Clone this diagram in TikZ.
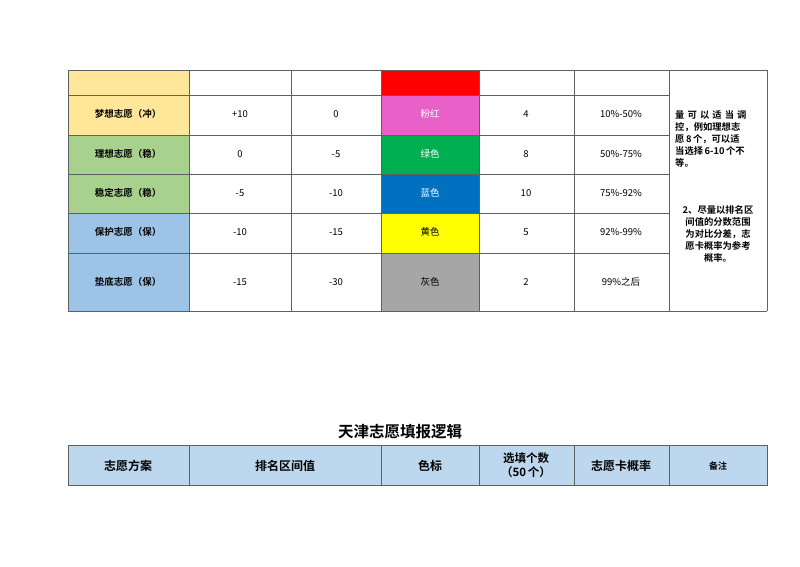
\documentclass[tikz,border=0pt]{standalone}
\usepackage{fontspec}
\setmainfont{Noto Sans CJK SC}
\newfontfamily\cjkb{Noto Sans CJK SC Bold}
\definecolor{cbeige}{HTML}{FFE699}
\definecolor{cgreen}{HTML}{A9D18E}
\definecolor{cblue}{HTML}{9DC3E6}
\definecolor{chead}{HTML}{BDD7EE}
\definecolor{kred}{HTML}{FF0000}
\definecolor{kpink}{HTML}{E960C8}
\definecolor{kgreen}{HTML}{00B050}
\definecolor{kblue}{HTML}{0070C0}
\definecolor{kyellow}{HTML}{FFFF00}
\definecolor{kgray}{HTML}{A6A6A6}
\definecolor{grid}{HTML}{606060}
\tikzset{cell/.style={draw=grid,line width=0.6pt},
 txt/.style={font=\fontsize{9.5}{11}\selectfont,text=black,text height=7pt,text depth=2pt},
 hd/.style={font=\fontsize{12}{14}\selectfont\cjkb,text=black,align=center}}
\begin{document}
\begin{tikzpicture}[x=1pt,y=-1pt]
\useasboundingbox (0,0) rectangle (800,566);
\fill[cbeige] (68,70) rectangle (189,135);
\fill[cgreen] (68,135) rectangle (189,213);
\fill[cblue] (68,213) rectangle (189,311);
\fill[kred] (381,70) rectangle (479,95);
\fill[kpink] (381,95) rectangle (479,135);
\fill[kgreen] (381,135) rectangle (479,174);
\fill[kblue] (381,174) rectangle (479,213);
\fill[kyellow] (381,213) rectangle (479,253);
\fill[kgray] (381,253) rectangle (479,311);
\foreach \y in {70,95,135,174,213,253,311} \draw[cell] (68,\y) -- (669,\y);
\draw[cell] (669,70) -- (767,70) (669,311) -- (767,311);
\foreach \x in {68,189,291,381,479,574,669,767} \draw[cell] (\x,70) -- (\x,311);
\foreach \y/\a/\b/\c/\d/\e/\f/\col [count=\i] in {
 115/梦想志愿（冲）/+10/0/粉红/4/10\%-50\%/white,
 155/理想志愿（稳）/0/-5/绿色/8/50\%-75\%/white,
 194/稳定志愿（稳）/-5/-10/蓝色/10/75\%-92\%/white,
 233/保护志愿（保）/-10/-15/黄色/5/92\%-99\%/black,
 283/垫底志愿（保）/-15/-30/灰色/2/99\%之后/black}{
 \node[txt,font=\fontsize{9.5}{11}\selectfont\cjkb] (r\i a) at (128,\y) {\a};
 \node[txt] (r\i b) at (240,\y) {\b};
 \node[txt] (r\i c) at (336,\y) {\c};
 \node[txt,text=\col] (r\i d) at (430,\y) {\d};
 \node[txt] (r\i e) at (526,\y) {\e};
 \node[txt] (r\i f) at (621,\y) {\f};
}
\node[font=\fontsize{9.3}{12}\selectfont\cjkb,align=left,anchor=north west,inner sep=0pt] (n1) at (675,110)
 {量\,\,可\,\,以\,\,适\,\,当\,\,调\\控，例如理想志\\愿\,8\,个，可以适\\当选择\,6-10\,个不\\等。};
\node[font=\fontsize{9.3}{12}\selectfont\cjkb,align=center,anchor=north,inner sep=0pt] (n2) at (718,205)
 {2、尽量以排名区\\间值的分数范围\\为对比分差，志\\愿卡概率为参考\\概率。};
\node[font=\fontsize{15.5}{17}\selectfont\cjkb] (title) at (400,432) {天津志愿填报逻辑};
\fill[chead] (68,445) rectangle (767,485);
\draw[cell] (68,445) rectangle (767,485);
\foreach \x in {189,381,479,574,669} \draw[cell] (\x,445) -- (\x,485);
\node[hd] (h1) at (128,466) {志愿方案};
\node[hd] (h2) at (285,466) {排名区间值};
\node[hd] (h3) at (430,466) {色标};
\node[hd,font=\fontsize{11.5}{13.5}\selectfont\cjkb] (h4) at (526,465) {选填个数\\（50\,个）};
\node[hd] (h5) at (621,466) {志愿卡概率};
\node[hd,font=\fontsize{9}{10}\selectfont\cjkb] (h6) at (718,466) {备注};
\end{tikzpicture}
\end{document}
